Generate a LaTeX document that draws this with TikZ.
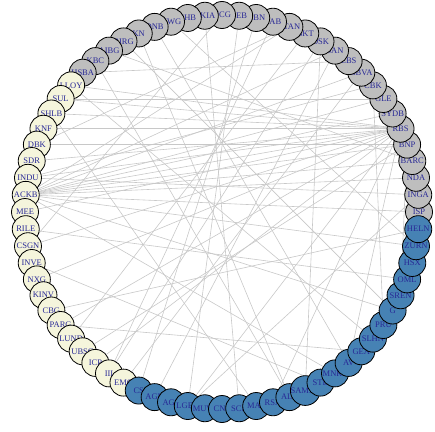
\documentclass[tikz,border=0pt]{standalone}
\usepackage{fontspec}
\setmainfont{Liberation Serif}
\definecolor{egray}{RGB}{200,200,200}
\definecolor{ngray}{RGB}{190,190,190}
\definecolor{ncream}{RGB}{245,245,220}
\definecolor{nblue}{RGB}{70,130,180}
\definecolor{lblue}{RGB}{40,40,150}
\pgfdeclarelayer{bg}
\pgfsetlayers{bg,main}
\begin{document}
\begin{tikzpicture}[x=1pt,y=-1pt,
  vtx/.style={circle,draw=black,line width=0.8pt,minimum size=27pt,inner sep=0pt,
    font=\fontsize{8.5}{9}\selectfont,text=lblue},
  edge/.style={draw=egray,line width=0.6pt}]
\useasboundingbox (0,0) rectangle (435,431);
\foreach \lab [count=\k from 0] in {ISP,INGA,NDA,BARC,BNP,RBS,SYDB,GLE,CBK,BBVA,EBS,SAN,DSK,BKT,STAN,SAB,KBN,SEB,UCG,BKIA,SHB,NWG,DNB,KN,BIRG,AIBG,KBC,HSBA,LLOY,SUL,SHLB,KNF,DBK,SDR,INDU,ACKB,MEE,RILE,CSGN,INVE,NXG,KINV,CBG,PARG,LUND,UBSG,ICP,III,EMG,CS,AGN,AGS,LGEN,MUV2,CNP,SCR,MAP,RSA,ALV,SAMAS,STB,MNRL,AV,GEA,SLHN,PRU,G,SREN,OML,HSX,ZURN,HELN} {
  \pgfmathsetmacro\ang{5*\k}
  \ifnum\k<28 \def\fc{ngray}\else\ifnum\k<49 \def\fc{ncream}\else\def\fc{nblue}\fi\fi
  \node[vtx,fill=\fc] (n\k) at ({222+197*cos(\ang)},{212-197*sin(\ang)}) {\lab};
}
\begin{pgfonlayer}{bg}
\foreach \a/\b in {35/0,35/2,35/3,35/4,35/5,35/6,35/7,35/9,35/11,35/14,35/70,35/66,35/61,
  34/1,34/5,34/8,
  5/28,5/29,5/30,5/31,5/33,5/36,5/38,5/40,5/43,5/46,5/52,5/57,5/62,
  4/32,4/45,4/67,
  26/58,17/52,19/55,15/47,13/44,22/62,24/66,28/64,30/56,39/60,43/63,48/9,
  1/52,11/50,14/32,18/38,21/70,23/58,25/3,29/7,37/68,16/49,
  12/59,8/65,42/71,47/12,27/10}
  \draw[edge] (n\a) -- (n\b);
\end{pgfonlayer}
\end{tikzpicture}
\end{document}
